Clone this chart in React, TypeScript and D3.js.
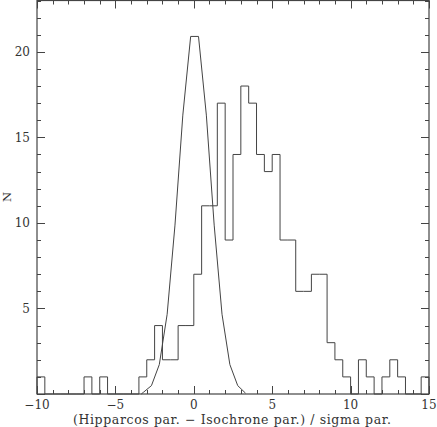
import React from "react";
import * as d3 from "d3";

// Histogram: bins of width 0.5 starting at -10
const binStart = -10;
const binWidth = 0.5;
const counts = [
  1, 0, 0, 0, 0, 0, 1, 0, 1, 0,
  0, 0, 0, 1, 2, 4, 2, 2, 4, 4,
  7, 11, 11, 17, 9, 14, 18, 17, 14, 13,
  14, 9, 9, 6, 6, 7, 7, 3, 2, 1,
  0, 2, 1, 0, 1, 2, 1, 0, 0, 1,
];

// Gaussian-like reference curve
const curveX = [-3.35, -3.2, -2.7, -2.2, -1.7, -1.2, -0.7, -0.2, 0.3, 0.8, 1.3, 1.8, 2.3, 2.8, 3.3];
const curveY = [0, 0.11, 0.49, 1.72, 4.66, 9.87, 16.3, 20.9, 20.9, 16.3, 9.87, 4.66, 1.72, 0.49, 0.05];

const xMajorTicks = [-10, -5, 0, 5, 10, 15];
const xTickLabels = ["\u221210", "\u22125", "0", "5", "10", "15"];
const yMajorTicks = [5, 10, 15, 20];
const yTickLabels = ["5", "10", "15", "20"];

const xLabel = "(Hipparcos par. \u2212 Isochrone par.) / sigma par.";
const yLabel = "N";

export default function App() {
  const W = 437, H = 427;
  const L = 37, R = 429, T = 0.5, B = 394;
  const x = d3.scaleLinear().domain([-10, 15]).range([L, R]);
  const y = d3.scaleLinear().domain([0, 23]).range([B, T]);
  const stroke = "#444";
  const font = "'DejaVu Serif', serif";

  // step path for histogram
  const pts: [number, number][] = [];
  counts.forEach((c, i) => {
    const x0 = binStart + i * binWidth;
    pts.push([x0, c]);
  });
  pts.push([binStart + counts.length * binWidth, counts[counts.length - 1]]);
  const histLine = d3
    .line<[number, number]>()
    .x((d) => x(d[0]))
    .y((d) => y(d[1]))
    .curve(d3.curveStepAfter);
  const histPath = histLine([[binStart, 0], ...pts, [15, 0]] as [number, number][]);

  const curvePath = d3
    .line<number>()
    .x((_, i) => x(curveX[i]))
    .y((d) => y(d))(curveY);

  const xMinor = d3.range(-10, 15.01, 1);
  const yMinor = d3.range(0, 23.01, 1);

  return (
    <svg
      width={W}
      height={H}
      style={{ position: "absolute", left: 0, top: 0, background: "#fff" }}
    >
      <rect x={0} y={0} width={W} height={H} fill="#fff" />
      {/* ticks */}
      <g stroke={stroke} strokeWidth={1}>
        {xMinor.map((v) => {
          const major = v % 5 === 0;
          const len = major ? 8 : 4;
          const px = Math.round(x(v)) + 0.5;
          return (
            <g key={"xt" + v}>
              <line x1={px} x2={px} y1={B} y2={B - len} />
              <line x1={px} x2={px} y1={T} y2={T + len} />
            </g>
          );
        })}
        {yMinor.map((v) => {
          const major = v % 5 === 0;
          const len = major ? 8 : 4;
          const py = Math.round(y(v)) + 0.5;
          return (
            <g key={"yt" + v}>
              <line x1={L} x2={L + len} y1={py} y2={py} />
              <line x1={R} x2={R - len} y1={py} y2={py} />
            </g>
          );
        })}
      </g>
      <rect x={L} y={T} width={R - L} height={B - T} fill="none" stroke={stroke} strokeWidth={1.2} />
      <path d={histPath || ""} fill="none" stroke={stroke} strokeWidth={1} />
      <path d={curvePath || ""} fill="none" stroke={stroke} strokeWidth={1} />
      {/* tick labels */}
      <g fontFamily={font} fontSize={12} fill="#333">
        {xMajorTicks.map((v, i) => (
          <text key={"xl" + v} x={x(v)} y={409} textAnchor="middle">
            {xTickLabels[i]}
          </text>
        ))}
        {yMajorTicks.map((v, i) => (
          <text key={"yl" + v} x={30} y={y(v) + 4.5} textAnchor="end">
            {yTickLabels[i]}
          </text>
        ))}
      </g>
      <text
        x={(L + R) / 2 - 1}
        y={424}
        textAnchor="middle"
        fontFamily={font}
        fontSize={12.5}
        fill="#333"
        textLength={318}
        lengthAdjust="spacing"
      >
        {xLabel}
      </text>
      <text
        transform={`translate(11,${197}) rotate(-90)`}
        textAnchor="middle"
        fontFamily={font}
        fontSize={11.5}
        fill="#333"
      >
        {yLabel}
      </text>
    </svg>
  );
}
